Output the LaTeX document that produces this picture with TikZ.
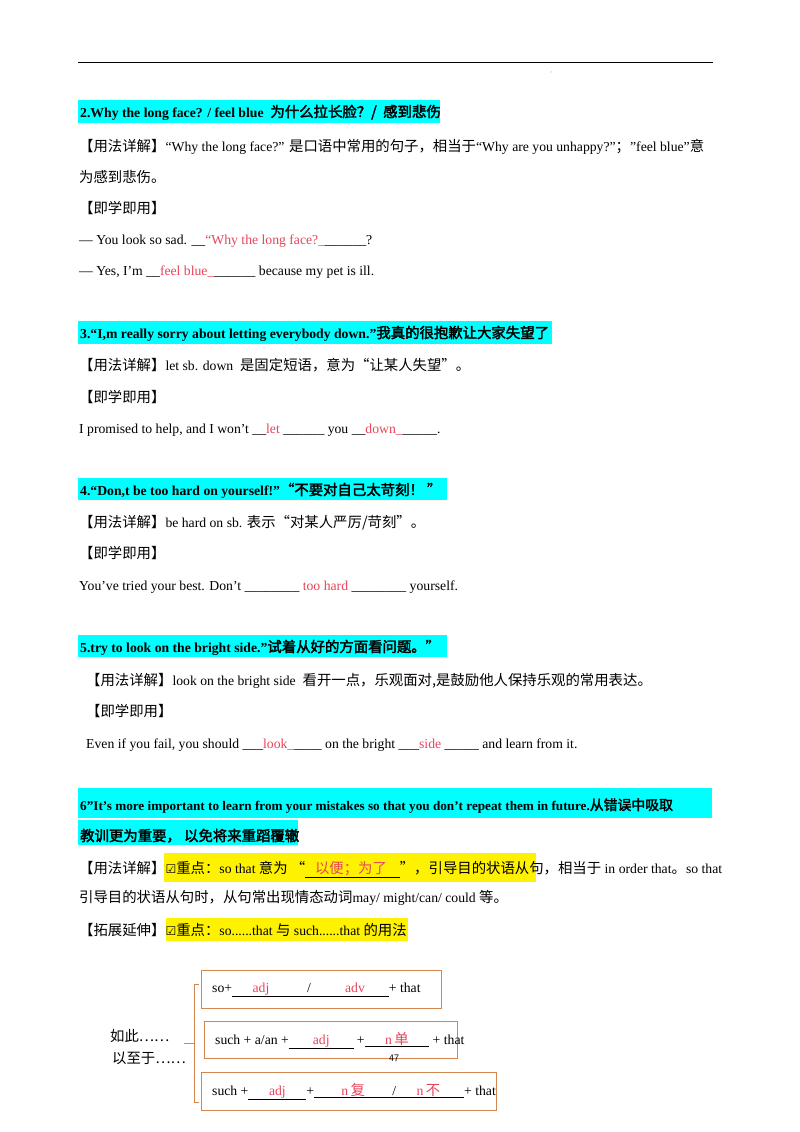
\documentclass[tikz,border=0pt]{standalone}
\usepackage{fontspec}
\setmainfont{Liberation Serif}
\newfontfamily\zhf{Noto Sans CJK SC}[AutoFakeBold=2.5,Scale=1.05]
\newfontfamily\djv{DejaVu Sans}
\newcommand{\zh}[1]{{\zhf #1}}
\definecolor{ansred}{HTML}{E8455A}
\definecolor{cyanb}{HTML}{00FFFF}
\definecolor{brk}{HTML}{D3874E}
\begin{document}
\begin{tikzpicture}[x=1pt,y=-1pt,
  T/.style={anchor=base west,inner sep=0pt,font=\fontsize{13.7}{16}\selectfont},
  H/.style={anchor=base west,inner sep=0pt,font=\fontsize{13.7}{16}\selectfont\bfseries},
  bx/.style={draw=brk,line width=0.9pt}]
\useasboundingbox (0,0) rectangle (800,1132);
\fill[white] (0,0) rectangle (800,1132);
\draw[line width=0.6pt] (78,62) -- (713,62);
\fill[gray] (551,72) circle (0.5);
% cyan bars
\fill[cyanb] (78,100) rectangle (440,123);
\fill[cyanb] (78,321) rectangle (552,344);
\fill[cyanb] (78,478) rectangle (447,500);
\fill[cyanb] (78,635) rectangle (447,657);
\fill[cyanb] (78,788) rectangle (712,818);
\fill[cyanb] (78,820) rectangle (298,845);
% yellow
\fill[yellow] (164,853) rectangle (536,882);
\fill[yellow] (166,918) rectangle (408,941);
% section 2
\node[H] (h2) at (80,117) {2.Why the long face? / feel blue \ \zh{为什么拉长脸？/ \ 感到悲伤}};
\node[T] (p2a) at (79,151) {\zh{【用法详解】}“Why the long face?” \zh{是口语中常用的句子，相当于}“Why are you unhappy?”\zh{；}"feel blue"\zh{意}};
\node[T] (p2b) at (79,182) {\zh{为感到悲伤。}};
\node[T] (p2c) at (79,213) {\zh{【即学即用】}};
\node[T] (p2d) at (79,244) {— You look so sad. \_\_{\color{ansred}“Why the long face?\_}\_\_\_\_\_\_?};
\node[T] (p2e) at (79,275) {— Yes, I'm \_\_{\color{ansred}feel blue\_}\_\_\_\_\_\_ because my pet is ill.};
% section 3
\node[H] (h3) at (80,338) {3.“I,m really sorry about letting everybody down.”\zh{我真的很抱歉让大家失望了}};
\node[T] (p3a) at (79,370) {\zh{【用法详解】}let sb. down \ \zh{是固定短语，意为“让某人失望”。}};
\node[T] (p3b) at (79,402) {\zh{【即学即用】}};
\node[T] (p3c) at (79,433) {I promised to help, and I won't \_\_{\color{ansred} let }\_\_\_\_\_\_ you \_\_{\color{ansred}down\_}\_\_\_\_\_.};
% section 4
\node[H] (h4) at (80,495) {4.“Don,t be too hard on yourself!”\zh{“不要对自己太苛刻！ ”}};
\node[T] (p4a) at (79,527) {\zh{【用法详解】}be hard on sb. \zh{表示“对某人严厉/苛刻”。}};
\node[T] (p4b) at (79,558) {\zh{【即学即用】}};
\node[T] (p4c) at (79,590) {You've tried your best. Don't \_\_\_\_\_\_\_\_ {\color{ansred}too hard} \_\_\_\_\_\_\_\_ yourself.};
% section 5
\node[H] (h5) at (80,652) {5.try to look on the bright side.”\zh{试着从好的方面看问题。”}};
\node[T] (p5a) at (86,685) {\zh{【用法详解】}look on the bright side \ \zh{看开一点，乐观面对,是鼓励他人保持乐观的常用表达。}};
\node[T] (p5b) at (86,716) {\zh{【即学即用】}};
\node[T] (p5c) at (86,748) {Even if you fail, you should \_\_\_{\color{ansred}look\_}\_\_\_\_ on the bright \_\_\_{\color{ansred}side} \_\_\_\_\_ and learn from it.};
% section 6
\node[H,font=\fontsize{13.2}{16}\selectfont\bfseries] (h6a) at (80,810) {6"It's more important to learn from your mistakes so that you don't repeat them in future.\zh{从错误中吸取}};
\node[H] (h6b) at (80,841) {\zh{教训更为重要， 以免将来重蹈覆辙}};
\node[T] (p6a) at (79,873) {\zh{【用法详解】}{\djv\fontsize{12}{13}\selectfont ☑}\zh{重点：}so that \zh{意为 “}\underline{\zh{\color{ansred}\ \ \ 以便；为了\ \ \ \ }}\zh{”，引导目的状语从句，相当于} in order that\zh{。}so that};
\node[T] (p6b) at (79,902) {\zh{引导目的状语从句时，从句常出现情态动词}may/ might/can/ could \zh{等。}};
\node[T] (p6c) at (79,935) {\zh{【拓展延伸】}{\djv\fontsize{12}{13}\selectfont ☑}\zh{重点：}so......that \zh{与} such......that \zh{的用法}};
% boxes
\draw[bx] (201,970) rectangle (441,1008);
\draw[bx] (204,1021) rectangle (457,1058);
\draw[bx] (201,1072) rectangle (496,1110);
\node[T] (b1) at (212,992) {so+\underline{\ \ \ \ \ \ {\color{ansred}adj}\ \ \ \ \ \ \ \ \ \ \ /\ \ \ \ \ \ \ \ \ \ {\color{ansred}adv}\ \ \ \ \ \ \ }+ that};
\node[T] (b2) at (215,1044) {such + a/an +\underline{\ \ \ \ \ \ \ {\color{ansred}adj}\ \ \ \ \ \ \ } +\underline{\ \ \ \ \ \ {\color{ansred}n\,\zh{单}}\ \ \ \ \ \ } + that};
\node[T] (b3) at (212,1095) {such +\underline{\ \ \ \ \ \ {\color{ansred}adj}\ \ \ \ \ \ }+\underline{\ \ \ \ \ \ \ \ {\color{ansred}n\,\zh{复}}\ \ \ \ \ \ \ \ /\ \ \ \ \ \ {\color{ansred}n\,\zh{不}}\ \ \ \ \ \ \ }+ that};
\node[anchor=base west,inner sep=0pt,font=\sffamily\fontsize{10}{12}\selectfont] (pg) at (389,1061) {47};
% bracket
\draw[brk,line width=0.8pt] (199,984) -- (194,984) -- (194,1102) -- (199,1102);
\draw[brk,line width=0.8pt] (184,1043) -- (194,1043);
\node[T] (l1) at (110,1041) {\zh{如此……}};
\node[T] (l2) at (112,1063) {\zh{以至于……}};
\end{tikzpicture}
\end{document}
